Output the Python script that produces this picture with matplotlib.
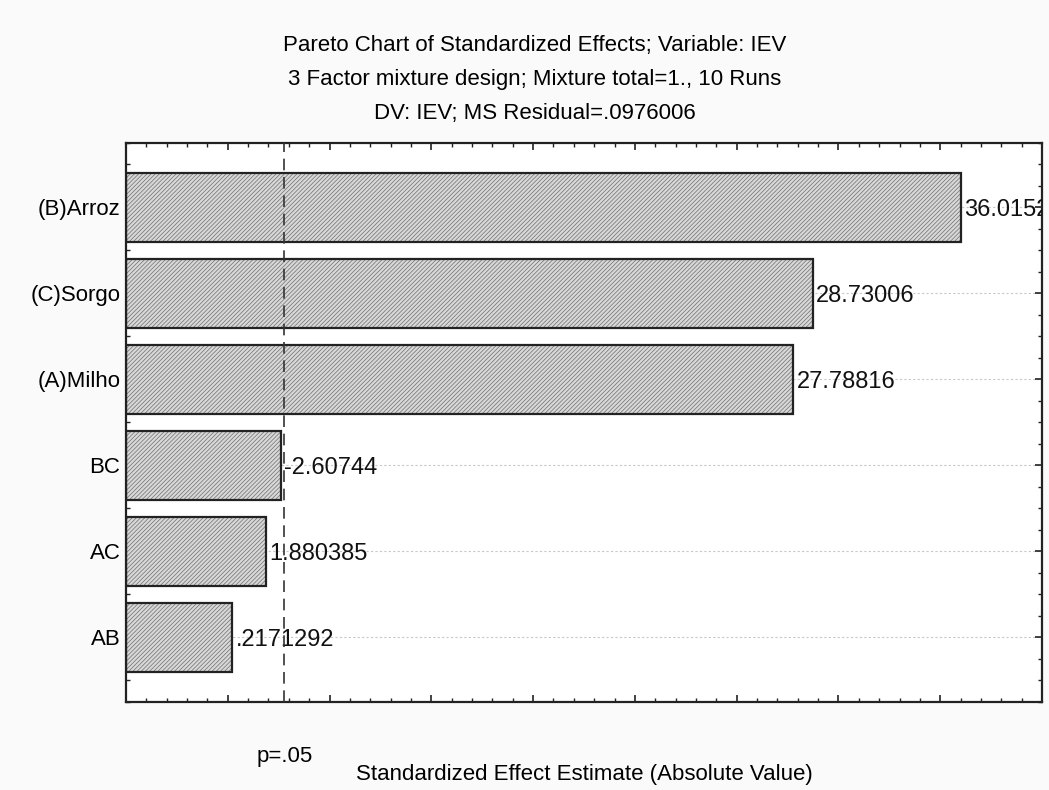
import matplotlib
matplotlib.use("Agg")
import matplotlib.pyplot as plt
from matplotlib.ticker import MultipleLocator, NullFormatter
import numpy as np

plt.rcParams['font.family'] = ['Liberation Sans', 'DejaVu Sans']
plt.rcParams['hatch.linewidth'] = 0.5

# effects, sorted as in the chart (top to bottom)
factors = ["(B)Arroz", "(C)Sorgo", "(A)Milho", "BC", "AC", "AB"]
effects = [36.0152, 28.73006, 27.78816, 2.60744, 1.880385, 0.2171292]
effect_labels = ["36.0152", "28.73006", "27.78816", "-2.60744", "1.880385", ".2171292"]
p_crit = 2.776  # t(0.975, 4)
x_min, x_max = -5, 40

fig = plt.figure(figsize=(10.49, 7.90), dpi=100, facecolor="#fafafa")
ax = fig.add_axes([126 / 1049, 1 - 702 / 790, 916 / 1049, 559 / 790])
ax.set_facecolor("white")

y = np.arange(len(factors))
widths = np.array(effects) - x_min  # bars start at the axis origin

# grid lines behind bars
for yy in y:
    ax.axhline(yy, color="#c8c8c8", lw=0.8, ls=(0, (2, 2)), zorder=0)

# hatched fill, then black outline
ax.barh(y, widths, height=0.8, left=x_min, color="#d8d8d8", edgecolor="#6e6e6e",
        hatch="////////", linewidth=0, zorder=2)
ax.barh(y, widths, height=0.8, left=x_min, fill=False, edgecolor="#222222",
        linewidth=1.6, zorder=3)

for yy, v, lab in zip(y, effects, effect_labels):
    ax.annotate(lab, (v, yy), xytext=(2.5, 0), textcoords="offset points",
                ha="left", va="center_baseline", fontsize=17, color="#111111",
                annotation_clip=False, clip_on=True, zorder=4)

ax.axvline(p_crit, color="#333333", lw=1.2, ls=(0, (7, 4)), zorder=5)

ax.set_xlim(x_min, x_max)
ax.set_ylim(5.75, -0.75)

ax.xaxis.set_major_locator(MultipleLocator(5))
ax.xaxis.set_minor_locator(MultipleLocator(1))
ax.xaxis.set_major_formatter(NullFormatter())
ax.set_yticks(y)
ax.set_yticklabels(factors, fontsize=16)
ax.yaxis.set_minor_locator(MultipleLocator(0.25))

ax.tick_params(axis="both", which="both", direction="in", top=True, right=True, color="#222222")
ax.tick_params(axis="both", which="major", length=5, width=1.2)
ax.tick_params(axis="both", which="minor", length=3, width=1.0)
ax.tick_params(axis="y", which="major", pad=4)

for s in ax.spines.values():
    s.set_linewidth(1.6)
    s.set_color("#222222")

ax.text(p_crit, -0.098, "p=.05", transform=ax.get_xaxis_transform(),
        ha="center", va="center", fontsize=16)
ax.set_xlabel("Standardized Effect Estimate (Absolute Value)", fontsize=16, labelpad=41)

fig.text(0.51, 1 - 46 / 790, "Pareto Chart of Standardized Effects; Variable: IEV",
         ha="center", va="center", fontsize=16)
fig.text(0.51, 1 - 79 / 790, "3 Factor mixture design; Mixture total=1., 10 Runs",
         ha="center", va="center", fontsize=16)
fig.text(0.51, 1 - 114 / 790, "DV: IEV; MS Residual=.0976006",
         ha="center", va="center", fontsize=16)

fig.savefig("out.png", dpi=100, facecolor=fig.get_facecolor())
